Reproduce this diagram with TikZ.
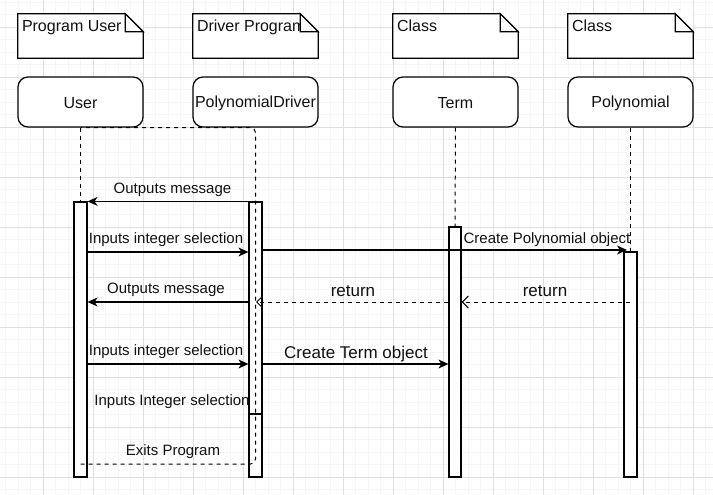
\documentclass[tikz,border=0pt]{standalone}
\usepackage{fontspec}
\setmainfont{Liberation Sans}
\usetikzlibrary{arrows.meta}
\definecolor{gridminor}{HTML}{F6F6F6}
\definecolor{gridmajor}{HTML}{DFDFDF}
\definecolor{ink}{HTML}{000000}
\definecolor{txt}{HTML}{111111}
\begin{document}
\begin{tikzpicture}[x=1pt,y=-1pt,
  notebox/.style={minimum width=125pt, minimum height=44pt, inner sep=0pt, fill=white},
  noteline/.style={draw=ink, line width=1.2pt, line join=miter},
  notetext/.style={font=\fontsize{16}{19}\selectfont, text=txt, inner sep=0pt, anchor=base west},
  headbox/.style={draw=ink, line width=1.2pt, rounded corners=10pt, fill=white, minimum width=125pt, minimum height=50pt, inner sep=0pt, font=\fontsize{16}{19}\selectfont, text=txt},
  headtext/.style={font=\fontsize{16}{19}\selectfont, text=txt, inner sep=0pt},
  actbar/.style={draw=ink, line width=1.2pt, fill=white, minimum width=13pt, inner sep=0pt},
  lifeline/.style={draw=ink, line width=1pt, dash pattern=on 4pt off 4pt},
  msg/.style={draw=ink, line width=1.2pt, -{Stealth[length=10pt,width=9pt,inset=3pt]}},
  ret/.style={draw=ink, line width=1pt, dash pattern=on 4pt off 4pt, -{Straight Barb[length=6pt,width=12pt,line width=1pt]}},
  lbl/.style={font=\fontsize{15}{18}\selectfont, text=txt, inner sep=0pt},
  biglbl/.style={font=\fontsize{17}{20}\selectfont, text=txt, inner sep=0pt}
]
\useasboundingbox (0,0) rectangle (713,495);
\fill[white] (0,0) rectangle (713,495);
% grid
\foreach \gx in {5.5,18,...,713} \draw[gridminor, line width=0.8pt] (\gx,0) -- (\gx,495);
\foreach \gy in {2,14.5,...,495} \draw[gridminor, line width=0.8pt] (0,\gy) -- (713,\gy);
\foreach \gx in {43,93,...,713} \draw[gridmajor, line width=0.8pt] (\gx,0) -- (\gx,495);
\foreach \gy in {27,77,...,495} \draw[gridmajor, line width=0.8pt] (0,\gy) -- (713,\gy);

% notes
\foreach \nn/\nx/\nt in {n1/80.5/Program User, n2/255.5/Driver Program, n3/455.5/Class, n4/630.5/Class}{
  \node[notebox] (\nn) at (\nx,36) {};
  \draw[noteline] (\nn.south west) -- (\nn.north west) -- ([xshift=-18pt]\nn.north east) -- ([yshift=-18pt]\nn.north east) -- (\nn.south east) -- cycle;
  \node[notetext] (\nn t) at ([xshift=4pt,yshift=-17.5pt]\nn.north west) {\nt};
  \filldraw[noteline, fill=white] ([xshift=-18pt]\nn.north east) -- ([xshift=-18pt,yshift=-18pt]\nn.north east) -- ([yshift=-18pt]\nn.north east) -- cycle;
}

% heads
\node[headbox] (uh) at (80.5,102) {};
\node[headbox] (dh) at (255.5,102) {};
\node[headbox] (th) at (455.5,102) {};
\node[headbox] (ph) at (630.5,102) {};
\node[headtext] (uht) at (80.5,103.5) {User};
\node[headtext] (dht) at (255.5,103.5) {PolynomialDriver};
\node[headtext] (tht) at (455.5,103.5) {Term};
\node[headtext] (pht) at (630.5,103.5) {Polynomial};

% activation bars
\node[actbar, minimum height=275pt] (ub) at (80.5,339.5) {};
\node[actbar, minimum height=212pt] (da) at (255.5,308) {};
\node[actbar, minimum height=63pt] (db) at (255.5,445.5) {};
\node[actbar, minimum width=12pt, minimum height=250pt] (tb) at (455,352) {};
\node[actbar, minimum height=225pt] (pb) at (630.5,364.5) {};

% lifelines
\draw[lifeline] (uh.south) -- (ub.north);
\draw[lifeline] (th.south) -- (tb.north);
\draw[lifeline] (ph.south) -- (pb.north);

% level coordinates
\coordinate (y250) at (0,250);
\coordinate (y252) at (0,252);
\coordinate (y302) at (0,302);
\coordinate (y364) at (0,364);
\coordinate (y464) at (0,464);
\coordinate (pend) at (627,250);
\coordinate (r2s) at (630,302);
\coordinate (r1e) at (256,302);

% messages
\draw[msg] (da.north west) -- (ub.north east);
\node[lbl] (l1) at (172.5,189.5) {Outputs message};

\draw[msg] (ub.east |- y252) -- (da.west |- y252);
\node[lbl] (l2) at (166,239.5) {Inputs integer selection};

\draw[msg] (da.east |- y250) -- (pend);
\node[lbl] (l3) at (547,239.5) {Create Polynomial object};

\draw[msg] (da.west |- y302) -- (ub.east |- y302);
\node[lbl] (l4) at (166,289.5) {Outputs message};

\draw[ret] (tb.west |- y302) -- (r1e);
\node[biglbl] (l5) at (353,291.5) {return};

\draw[ret] (r2s) -- (tb.east |- y302);
\node[biglbl] (l6) at (545,291.5) {return};

\draw[msg] (ub.east |- y364) -- (da.west |- y364);
\node[lbl] (l7) at (166,351.5) {Inputs integer selection};

\draw[msg] (da.east |- y364) -- (tb.west |- y364);
\node[biglbl] (l8) at (356,354.5) {Create Term object};

\node[lbl] (l9) at (172,401.5) {Inputs Integer selection};

% exit path (dashed, on top)
\draw[lifeline, rounded corners=5pt] (ub.center |- y464) -- (da.center |- y464) -- (dh.south) -- (uh.south);
\node[lbl] (l10) at (173,451.5) {Exits Program};
\end{tikzpicture}
\end{document}
